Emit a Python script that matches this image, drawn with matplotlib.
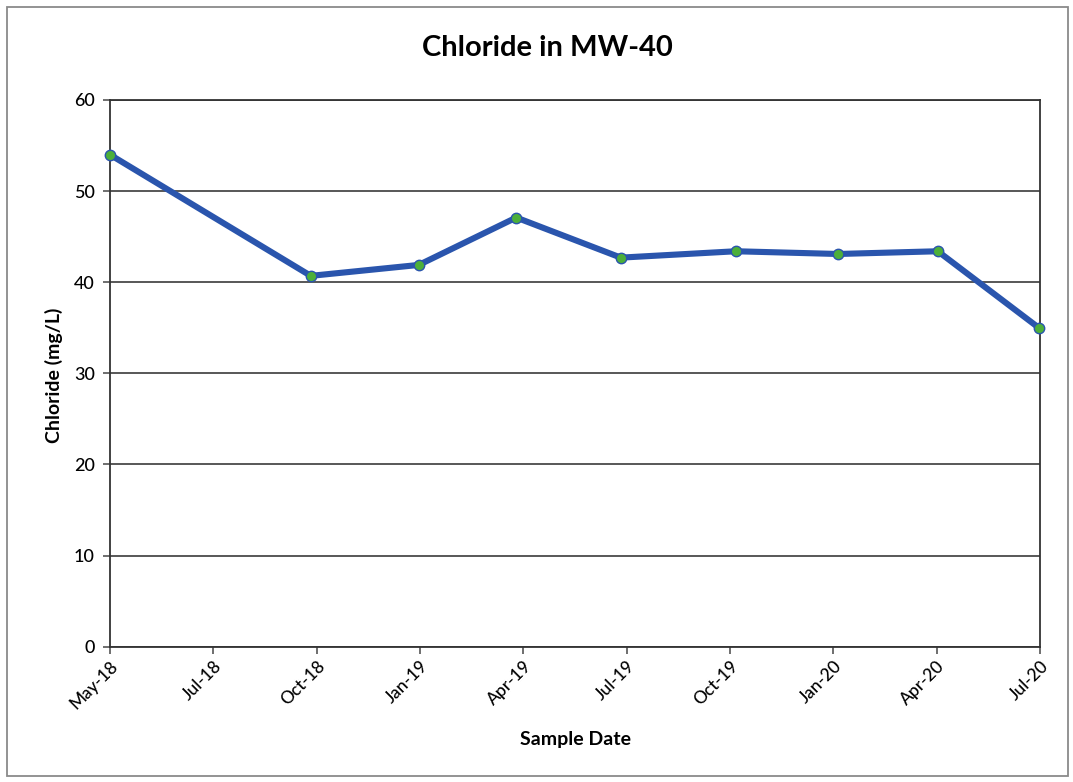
import datetime as dt
import matplotlib
matplotlib.use("Agg")
import matplotlib.pyplot as plt
import matplotlib.dates as mdates
from matplotlib.patches import Rectangle

# Sample dates and measured chloride concentrations (mg/L)
sample_dates = ["2018-05-01", "2018-10-19", "2019-01-19", "2019-04-12", "2019-07-10",
                "2019-10-16", "2020-01-11", "2020-04-05", "2020-06-30"]
chloride = [54.0, 40.7, 41.9, 47.1, 42.7, 43.4, 43.1, 43.4, 35.0]

title = "Chloride in MW-40"
x_label = "Sample Date"
y_label = "Chloride (mg/L)"
y_ticks = [0, 10, 20, 30, 40, 50, 60]

# Date axis: starts 1 May 2018, major unit 88 days, nine intervals
axis_start = dt.date(2018, 5, 1)
major_unit_days = 88
n_intervals = 9

plt.rcParams["font.family"] = ["Lato", "DejaVu Sans"]

fig = plt.figure(figsize=(10.73, 7.82), dpi=100)
fig.patch.set_facecolor("white")

# Chart-area border
fig.patches.append(Rectangle((7 / 1073, 1 - 776 / 782), 1061 / 1073, 769 / 782,
                             transform=fig.transFigure, fill=False,
                             edgecolor="#8a8a8a", linewidth=1.3))

ax = fig.add_axes([110 / 1073, 1 - 646.7 / 782, 930 / 1073, 546.7 / 782])

x = [dt.datetime.strptime(d, "%Y-%m-%d").date() for d in sample_dates]
ax.plot(x, chloride, color="#2a55ad", linewidth=4.4, solid_joinstyle="round",
        marker="o", markersize=7.5, markerfacecolor="#4caf3a",
        markeredgecolor="#2a55ad", markeredgewidth=1.0, zorder=3, clip_on=False)

ticks = [axis_start + dt.timedelta(days=major_unit_days * i) for i in range(n_intervals + 1)]
ax.set_xlim(ticks[0], ticks[-1])
ax.set_xticks(ticks)
ax.xaxis.set_major_formatter(mdates.DateFormatter("%b-%y"))
ax.set_ylim(0, 60)
ax.set_yticks(y_ticks)

ax.grid(axis="y", color="#4a4a4a", linewidth=1.3)
ax.set_axisbelow(True)
for side in ["left", "right", "top", "bottom"]:
    ax.spines[side].set_color("#333333")
    ax.spines[side].set_linewidth(1.3)

ax.tick_params(axis="both", direction="out", length=5, width=1.2, color="#555555")
ax.tick_params(axis="y", labelsize=13, pad=6)
ax.tick_params(axis="x", labelsize=12.5, pad=3)
for lab in ax.get_yticklabels() + ax.get_xticklabels():
    lab.set_fontweight("medium")
for lab in ax.get_xticklabels():
    lab.set_rotation(45)
    lab.set_ha("right")
    lab.set_rotation_mode("anchor")

fig.text(547 / 1073, 1 - 48 / 782, title, ha="center", va="center",
         fontsize=21, fontweight="bold")
fig.text(576 / 1073, 1 - 739 / 782, x_label, ha="center", va="center",
         fontsize=14, fontweight="bold")
fig.text(54 / 1073, 1 - 375 / 782, y_label, ha="center", va="center",
         rotation=90, fontsize=14, fontweight="bold")

fig.savefig("out.png", dpi=100)
